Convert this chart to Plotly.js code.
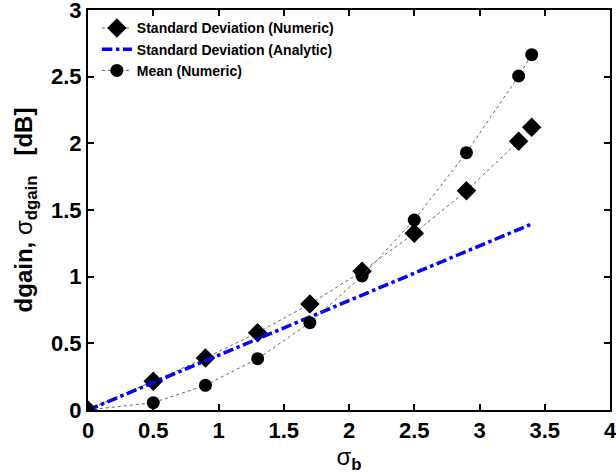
<!DOCTYPE html>
<html><head><meta charset="utf-8">
<script src="https://cdn.plot.ly/plotly-3.0.1.min.js"></script>
<style>html,body{margin:0;padding:0;background:#fff}#c{width:616px;height:476px}</style>
</head><body><div id="c"></div>
<script>
const sigmaB = [0, 0.5, 0.9, 1.3, 1.7, 2.1, 2.5, 2.9, 3.3, 3.4];
const stdNumeric = [0, 0.215, 0.39, 0.58, 0.795, 1.04, 1.325, 1.645, 2.015, 2.12];
const stdAnalytic = [0, 0.205, 0.37, 0.535, 0.70, 0.865, 1.025, 1.19, 1.355, 1.395];
const meanNumeric = [0, 0.055, 0.185, 0.385, 0.655, 1.005, 1.425, 1.93, 2.505, 2.665];
const xTicks = [0, 0.5, 1, 1.5, 2, 2.5, 3, 3.5, 4];
const yTicks = [0, 0.5, 1, 1.5, 2, 2.5, 3];
const names = ['Standard Deviation (Numeric)', 'Standard Deviation (Analytic)', 'Mean (Numeric)'];

const traces = [
  {x: sigmaB, y: stdNumeric, name: names[0], mode: 'lines+markers',
   line: {color: '#666', width: 1, dash: 'dot'},
   marker: {symbol: 'diamond', size: 15, color: '#000'}},
  {x: sigmaB, y: stdAnalytic, name: names[1], mode: 'lines',
   line: {color: '#0000ff', width: 3.5, dash: 'dashdot'}},
  {x: sigmaB, y: meanNumeric, name: names[2], mode: 'lines+markers',
   line: {color: '#666', width: 1, dash: 'dot'},
   marker: {symbol: 'circle', size: 13, color: '#000'}}
];

const tickFont = {family: 'Liberation Sans, Arial, sans-serif', size: 22, color: '#000', weight: 'bold'};
const axisCommon = {
  showgrid: false, zeroline: false, showline: true, linecolor: '#000', linewidth: 2,
  mirror: 'allticks', ticks: 'inside', ticklen: 6, tickwidth: 2, tickcolor: '#000',
  ticklabeloverflow: 'allow', tickfont: tickFont
};

const layout = {
  width: 616, height: 476,
  margin: {l: 88, r: 6, t: 10, b: 66},
  paper_bgcolor: '#fff', plot_bgcolor: '#fff',
  showlegend: true,
  legend: {x: 0.017, y: 0.994, xanchor: 'left', yanchor: 'top', bgcolor: 'rgba(0,0,0,0)',
    font: {family: 'Liberation Sans, Arial, sans-serif', size: 14, color: '#000', weight: 'bold'},
    tracegroupgap: 0, itemwidth: 30},
  xaxis: Object.assign({}, axisCommon, {range: [0, 4], tickvals: xTicks, ticktext: xTicks.map(String),
    title: {text: 'σ<sub><b>b</b></sub>', standoff: 6,
      font: {family: 'Liberation Sans, Arial, sans-serif', size: 24, color: '#000'}}}),
  yaxis: Object.assign({}, axisCommon, {range: [0, 3], tickvals: yTicks, ticktext: yTicks.map(String),
    title: {text: '<b>dgain, </b>σ<sub><b>dgain</b></sub><b>   [dB]</b>', standoff: 12,
      font: {family: 'Liberation Sans, Arial, sans-serif', size: 24, color: '#000'}}})
};

Plotly.newPlot('c', traces, layout, {staticPlot: true, displayModeBar: false});
</script>
</body></html>
